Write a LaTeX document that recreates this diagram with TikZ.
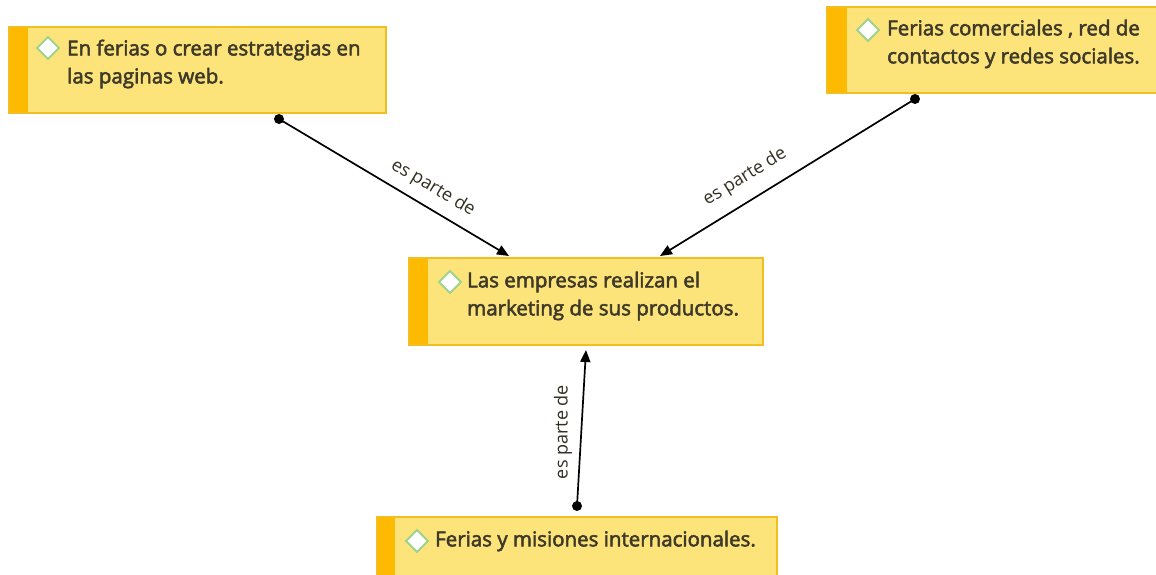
\documentclass[tikz,border=0pt]{standalone}
\usepackage{fontspec}
\setmainfont{Open Sans}
\newfontfamily\boxfont{Open Sans}[FakeBold=2.6]
\usetikzlibrary{arrows.meta}
\definecolor{boxfill}{HTML}{FDE47A}
\definecolor{boxline}{HTML}{F2BE22}
\definecolor{barcol}{HTML}{FDBA00}
\definecolor{txtcol}{HTML}{3E3A2A}
\definecolor{diamline}{HTML}{9FD28C}
\begin{document}
\begin{tikzpicture}[x=1pt,y=-1pt,
  conceptbox/.style={draw=boxline,line width=1.2pt,fill=boxfill},
  sidebar/.style={fill=barcol},
  dia/.style={draw=diamline,fill=white,line width=1.8pt},
  btext/.style={anchor=west,inner sep=0pt,font=\boxfont\fontsize{20.5}{28}\selectfont,text=txtcol,align=left},
  link/.style={-{Triangle[length=12pt,width=10pt]},line width=1.7pt,black},
  dotend/.style={circle,fill=black,inner sep=0pt,minimum size=10pt},
  lbl/.style={font=\fontsize{18}{20}\selectfont,text=txtcol!80!black,inner sep=0pt}]
\useasboundingbox (0,0) rectangle (1156,575);
\fill[white] (0,0) rectangle (1156,575);
% box A
\draw[conceptbox] (9,27) rectangle (386,113);
\fill[sidebar] (9.6,27.6) rectangle (28,112.4);
\draw[dia] (48,37) -- (59,48) -- (48,59) -- (37,48) -- cycle;
\node[btext] (Atext) at (67,64) {En ferias o crear estrategias en\\las paginas web.};
% box B
\draw[conceptbox] (827,7) rectangle (1160,93);
\fill[sidebar] (827.6,7.6) rectangle (847,92.4);
\draw[dia] (868,19) -- (879,30) -- (868,41) -- (857,30) -- cycle;
\node[btext] (Btext) at (887,44) {Ferias comerciales , red de\\contactos y redes sociales.};
% box C
\draw[conceptbox] (409,258) rectangle (763,345);
\fill[sidebar] (409.6,258.6) rectangle (428,344.4);
\draw[dia] (450,271) -- (461,282) -- (450,293) -- (439,282) -- cycle;
\node[btext] (Ctext) at (467,296) {Las empresas realizan el\\marketing de sus productos.};
% box D
\draw[conceptbox] (377,517) rectangle (777,580);
\fill[sidebar] (377.6,517.6) rectangle (395,580);
\draw[dia] (417,530) -- (428,541) -- (417,552) -- (406,541) -- cycle;
\node[btext] (Dtext) at (435,541) {Ferias y misiones internacionales.};
% connector endpoints
\node[dotend] (a0) at (279,119) {};
\node[dotend] (b0) at (915,99) {};
\node[dotend] (d0) at (577,506) {};
\coordinate (c1) at (509,256);
\coordinate (c2) at (660,256);
\coordinate (c3) at (586,350);
\draw[link] (a0.center) -- (c1);
\draw[link] (b0.center) -- (c2);
\draw[link] (d0.center) -- (c3);
\node[lbl,rotate=-30.7] (la) at (433,188) {es parte de};
\node[lbl,rotate=31.6] (lb) at (745,177) {es parte de};
\node[lbl,rotate=90] (ld) at (563,432) {es parte de};
\end{tikzpicture}
\end{document}
